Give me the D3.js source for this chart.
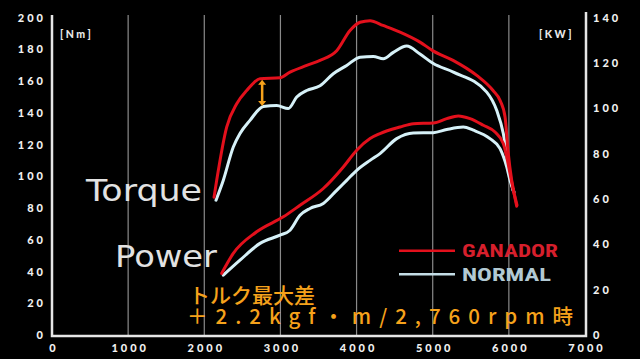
<!DOCTYPE html>
<html><head><meta charset="utf-8">
<script src="https://cdn.jsdelivr.net/npm/d3@7"></script>
<style>
html,body{margin:0;padding:0;background:#000;}
svg{display:block;}
</style></head>
<body>
<svg id="c" width="640" height="359"></svg>
<script>
// ---- data ----
const xTicks = [0,1000,2000,3000,4000,5000,6000,7000];
const leftTicks = [0,20,40,60,80,100,120,140,160,180,200];
const rightTicks = [0,20,40,60,80,100,120,140];

const ganTorqueRpm = [2128,2163,2294,2426,2557,2732,2994,3126,3345,3520,3739,3914,4045,4177,4347,4571,4833,5004,5267,5578,5792,5884,5950,5989,6037,6107];
const ganTorque    = [86.8,97.5,131,145.7,154,161.4,162,165.6,169.8,173,179,191.8,197,198,195,190.8,184.5,179,173,163.5,154,147.8,137.3,116,97.5,81.8];

const norTorqueRpm = [2154,2250,2381,2469,2600,2775,2951,3103,3214,3345,3520,3694,3870,4045,4220,4351,4483,4658,4833,5008,5271,5709,5840,5927,5993,6055];
const norTorque    = [84.9,97.5,118.4,126.9,135.2,144,144.6,142.6,149.9,154,157,164.6,169.8,175,175.5,174,178,182,177,171,165.6,153,141.5,126.9,105.8,91];

const ganPowerRpm = [2229,2381,2688,3038,3257,3563,3826,4002,4177,4308,4571,4745,5008,5184,5336,5490,5665,5818,5927,5972,6015,6059,6103];
const ganPower    = [27.2,36,45.5,52.1,57.2,64.6,74.1,81.5,86.6,88.8,91.7,93.2,93.5,95.4,96.6,95.4,92.5,89.5,84.4,78.5,71.2,63.8,56.8];

const norPowerRpm = [2250,2469,2732,2994,3126,3257,3388,3563,3739,3870,4002,4177,4308,4527,4745,5008,5184,5402,5533,5752,5884,5972,6015,6068];
const norPower    = [26.4,33,40.4,44,46.2,52.8,55.8,58,63.8,68.2,72.6,77,80,86.6,89.1,89.2,90.6,91.7,90.3,86.6,82.2,74.1,68.2,63];

const seriesNames = ["GANADOR","NORMAL"];
const annoRpm = 2760;
const annoTop = 161.4, annoBottom = 143.6;
const noteLines = ["トルク最大差","＋2.2kgf・m/2,760rpm時"];

// ---- layout ----
const svg = d3.select("#c");
const W=640,H=359;
svg.append("rect").attr("width",W).attr("height",H).attr("fill","#000");

const x = d3.scaleLinear().domain([0,7000]).range([52,585]);
const yL = d3.scaleLinear().domain([0,200]).range([335,17.5]);
const yR = d3.scaleLinear().domain([0,140]).range([335,17.5]);

const RED="#e3101c", WHITE="#d6f1f8", ORANGE="#f6a21b";

// vertical grid
svg.append("g").selectAll("line").data(xTicks.slice(1,-1)).join("line")
  .attr("x1",d=>x(d)).attr("x2",d=>x(d)).attr("y1",15).attr("y2",335)
  .attr("stroke","#8a8a8a").attr("stroke-width",1.2);

// axes
const tickFont = g => g.selectAll("text")
  .attr("font-family","Lato, 'DejaVu Sans', sans-serif").attr("font-weight","900")
  .attr("font-size","11px").attr("fill","#f0f0f0").attr("letter-spacing","3px");

const gx = svg.append("g").attr("transform","translate(0,335)")
  .call(d3.axisBottom(x).tickValues(xTicks).tickSize(0).tickPadding(9).tickFormat(d3.format("d")));
gx.select(".domain").remove();
tickFont(gx);
gx.selectAll("text").attr("dx","1.5px");

const gl = svg.append("g").attr("transform","translate(52,0)")
  .call(d3.axisLeft(yL).tickValues(leftTicks).tickSize(0).tickPadding(6));
gl.select(".domain").remove();
tickFont(gl);

const gr = svg.append("g").attr("transform","translate(586,0)")
  .call(d3.axisRight(yR).tickValues(rightTicks).tickSize(0).tickPadding(7));
gr.select(".domain").remove();
tickFont(gr);

// axis frame lines
svg.append("path")
  .attr("d",`M52,15V336H586V12`)
  .attr("fill","none").attr("stroke","#e6e6e6").attr("stroke-width",2.5);

// unit labels
svg.append("text").attr("x",60).attr("y",37.5).text("[Nm]")
  .attr("font-family","Lato, sans-serif").attr("font-weight","900").attr("font-size","10.5px")
  .attr("fill","#e8e8e8").attr("letter-spacing","2.5px");
svg.append("text").attr("x",539).attr("y",37.5).text("[KW]")
  .attr("font-family","Lato, sans-serif").attr("font-weight","900").attr("font-size","10.5px")
  .attr("fill","#e8e8e8").attr("letter-spacing","2.5px");

// lines
const lineL = d3.line().x(d=>x(d[0])).y(d=>yL(d[1])).curve(d3.curveMonotoneX);
const lineR = d3.line().x(d=>x(d[0])).y(d=>yR(d[1])).curve(d3.curveMonotoneX);
const zip = (a,b)=>a.map((v,i)=>[v,b[i]]);

function draw(path,color){
  svg.append("path").attr("d",path).attr("fill","none").attr("stroke",color)
    .attr("stroke-width",3).attr("stroke-linejoin","round").attr("stroke-linecap","round");
}
draw(lineR(zip(norPowerRpm,norPower)),WHITE);
draw(lineL(zip(norTorqueRpm,norTorque)),WHITE);
draw(lineR(zip(ganPowerRpm,ganPower)),RED);
draw(lineL(zip(ganTorqueRpm,ganTorque)),RED);

// annotation arrow
const ax = x(annoRpm), ay1 = yL(annoTop)+1, ay2 = yL(annoBottom)-1;
svg.append("line").attr("x1",ax).attr("x2",ax).attr("y1",ay1+3).attr("y2",ay2-3)
  .attr("stroke",ORANGE).attr("stroke-width",2.5);
svg.append("path").attr("d",`M${ax-4},${ay1+5}L${ax},${ay1}L${ax+4},${ay1+5}Z`).attr("fill",ORANGE);
svg.append("path").attr("d",`M${ax-4},${ay2-5}L${ax},${ay2}L${ax+4},${ay2-5}Z`).attr("fill",ORANGE);

// Torque / Power labels
svg.append("text").attr("x",86).attr("y",200.5).text("Torque")
  .attr("font-family","'DejaVu Sans', sans-serif").attr("font-size","31px").attr("fill","#e2e2e2")
  .attr("textLength",116).attr("lengthAdjust","spacingAndGlyphs");
svg.append("text").attr("x",115).attr("y",267).text("Power")
  .attr("font-family","'DejaVu Sans', sans-serif").attr("font-size","31px").attr("fill","#e2e2e2")
  .attr("textLength",102).attr("lengthAdjust","spacingAndGlyphs");

// legend
const legColors=[RED,"#c4dde6"];
const legText=["#d61f2c","#b2c9d3"];
const legLens=[96,89];
seriesNames.forEach((n,i)=>{
  const yy = 250.7 + i*23.6;
  svg.append("line").attr("x1",399).attr("x2",455).attr("y1",yy).attr("y2",yy)
    .attr("stroke",legColors[i]).attr("stroke-width",2.5);
  svg.append("text").attr("x",462).attr("y",yy+6.5).text(n)
    .attr("font-family","'Liberation Sans Narrow','Roboto Condensed',Roboto,sans-serif")
    .attr("font-weight","bold").attr("font-size","18.5px").attr("fill",legText[i])
    .attr("textLength",legLens[i]).attr("lengthAdjust","spacingAndGlyphs");
});

// note
svg.append("text").attr("x",189).attr("y",302.5).text(noteLines[0])
  .attr("font-family","'Noto Sans CJK JP',sans-serif").attr("font-weight","500")
  .attr("font-size","21px").attr("fill",ORANGE);
svg.append("text").attr("x",187).attr("y",324).text(noteLines[1])
  .attr("font-family","'Noto Sans CJK JP',sans-serif").attr("font-weight","500")
  .attr("font-size","20.5px").attr("fill",ORANGE)
  .attr("textLength",386).attr("lengthAdjust","spacing");
</script>
</body></html>
